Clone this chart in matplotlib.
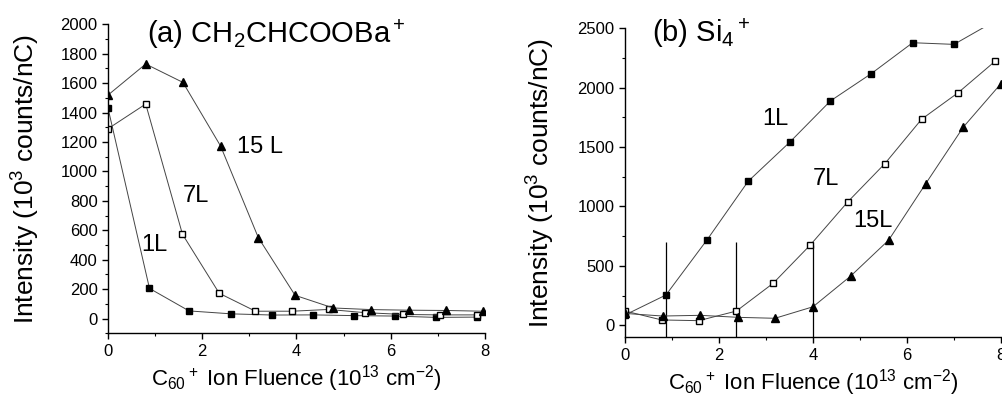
import matplotlib
matplotlib.use('Agg')
import matplotlib.pyplot as plt
from matplotlib.ticker import MultipleLocator

plt.rcParams['font.family'] = ['Liberation Sans', 'DejaVu Sans']
plt.rcParams['mathtext.fontset'] = 'custom'
plt.rcParams['mathtext.rm'] = 'Liberation Sans'
plt.rcParams['mathtext.it'] = 'Liberation Sans:italic'
plt.rcParams['mathtext.default'] = 'regular'

# (a) CH2CHCOOBa+
a_x_1L = [0, 0.88, 1.72, 2.62, 3.49, 4.36, 5.23, 6.09, 6.96, 7.83]
a_y_1L = [1430, 205, 52, 32, 24, 25, 20, 17, 8, 10]
a_x_7L = [0, 0.80, 1.58, 2.36, 3.13, 3.91, 4.68, 5.46, 6.27, 7.05, 7.83]
a_y_7L = [1290, 1458, 573, 172, 50, 50, 62, 40, 28, 25, 25]
a_x_15L = [0, 0.80, 1.59, 2.39, 3.19, 3.97, 4.78, 5.58, 6.38, 7.18, 7.96]
a_y_15L = [1519, 1730, 1605, 1172, 550, 158, 72, 61, 57, 55, 50]

# (b) Si4+
b_x_1L = [0, 0.87, 1.75, 2.62, 3.51, 4.37, 5.24, 6.12, 7.0, 7.87]
b_y_1L = [87, 255, 722, 1212, 1543, 1888, 2118, 2378, 2364, 2560]
b_x_7L = [0, 0.78, 1.57, 2.37, 3.15, 3.94, 4.74, 5.53, 6.31, 7.09, 7.88]
b_y_7L = [120, 45, 39, 120, 353, 675, 1039, 1361, 1734, 1958, 2224]
b_x_15L = [0, 0.80, 1.60, 2.41, 3.19, 4.0, 4.80, 5.61, 6.40, 7.20, 8.0]
b_y_15L = [100, 78, 84, 67, 59, 156, 414, 717, 1193, 1669, 2034]
b_drop_x = [0.87, 2.37, 4.0]
b_drop_top = [697, 697, 675]

fig = plt.figure(figsize=(10.02, 3.98), dpi=100)
ax1 = fig.add_axes([0.1078, 0.1626, 0.3762, 0.7764])
ax2 = fig.add_axes([0.6238, 0.1528, 0.3752, 0.7763])

line_kw = dict(color='#444444', lw=0.7, markeredgecolor='black')


def style_axes(ax):
    for side in ['top', 'right']:
        ax.spines[side].set_visible(False)
    ax.spines['left'].set_linewidth(1.0)
    ax.spines['bottom'].set_linewidth(1.0)
    ax.tick_params(which='major', direction='out', length=4, width=1, labelsize=12)
    ax.tick_params(which='minor', direction='out', length=2.2, width=0.8)
    ax.set_xlabel(r'C$_{60}$$^+$ Ion Fluence (10$^{13}$ cm$^{-2}$)', fontsize=16, labelpad=3)
    ax.set_ylabel(r'Intensity (10$^3$ counts/nC)', fontsize=19)


ax1.plot(a_x_1L, a_y_1L, 's-', ms=5, mfc='black', **line_kw)
ax1.plot(a_x_7L, a_y_7L, 's-', ms=5, mfc='white', **line_kw)
ax1.plot(a_x_15L, a_y_15L, '^-', ms=6, mfc='black', **line_kw)
ax1.set_xlim(0, 8)
ax1.set_ylim(-100, 2000)
ax1.xaxis.set_major_locator(MultipleLocator(2))
ax1.xaxis.set_minor_locator(MultipleLocator(1))
ax1.yaxis.set_major_locator(MultipleLocator(200))
ax1.yaxis.set_minor_locator(MultipleLocator(100))
style_axes(ax1)
ax1.yaxis.set_label_coords(-0.175, 0.5)
ax1.text(0.83, 1875, r'(a) CH$_2$CHCOOBa$^+$', fontsize=21)
ax1.text(2.74, 1126, '15 L', fontsize=17)
ax1.text(1.59, 790, '7L', fontsize=17)
ax1.text(0.71, 460, '1L', fontsize=17)

ax2.vlines(b_drop_x, -100, b_drop_top, color='black', lw=0.9)
ax2.plot(b_x_1L, b_y_1L, 's-', ms=5, mfc='black', **line_kw)
ax2.plot(b_x_7L, b_y_7L, 's-', ms=5, mfc='white', **line_kw)
ax2.plot(b_x_15L, b_y_15L, '^-', ms=6, mfc='black', **line_kw)
ax2.set_xlim(0, 8)
ax2.set_ylim(-100, 2500)
ax2.xaxis.set_major_locator(MultipleLocator(2))
ax2.xaxis.set_minor_locator(MultipleLocator(1))
ax2.yaxis.set_major_locator(MultipleLocator(500))
ax2.yaxis.set_minor_locator(MultipleLocator(250))
style_axes(ax2)
ax2.yaxis.set_label_coords(-0.181, 0.5)
ax2.text(0.58, 2383, r'(b) Si$_4$$^+$', fontsize=21)
ax2.text(2.92, 1683, '1L', fontsize=17)
ax2.text(3.99, 1179, '7L', fontsize=17)
ax2.text(4.85, 829, '15L', fontsize=17)

fig.savefig('out.png', dpi=100)
